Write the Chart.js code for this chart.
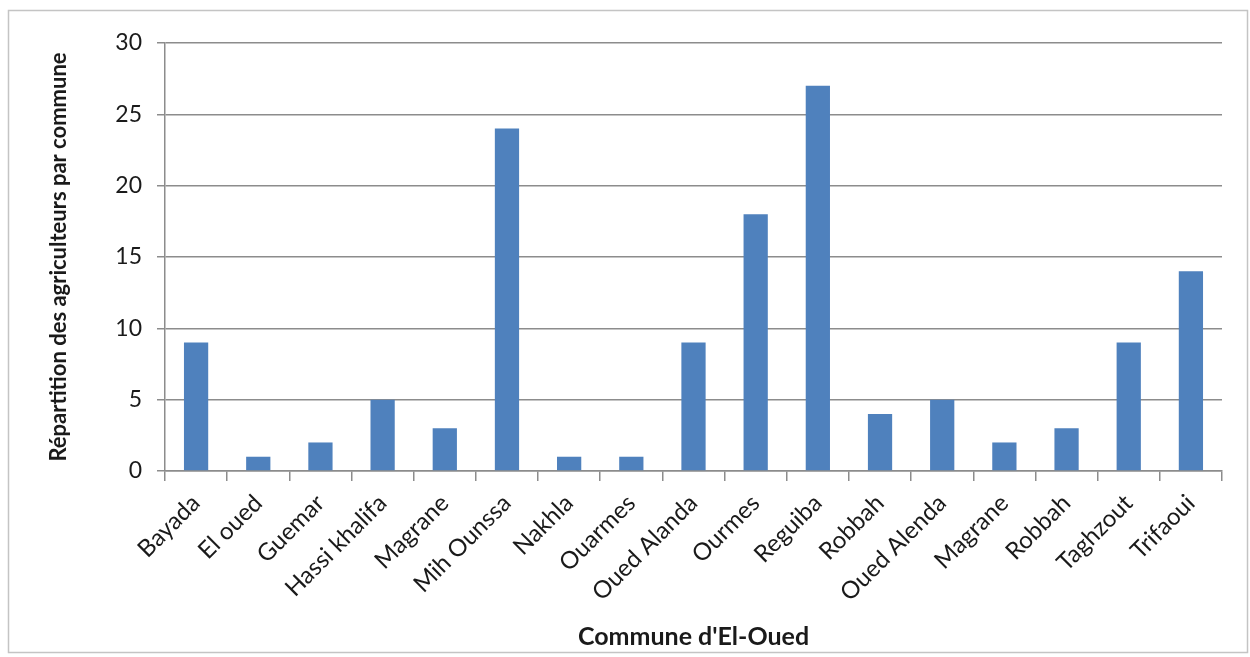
<!DOCTYPE html>
<html>
<head>
<meta charset="utf-8">
<script src="https://cdn.jsdelivr.net/npm/chart.js@4.4.1/dist/chart.umd.min.js"></script>
<style>
  html, body { margin: 0; padding: 0; background: #ffffff; }
  #wrap { position: relative; width: 1250px; height: 657px; }
</style>
</head>
<body>
<div id="wrap"><canvas id="chart" width="1250" height="657"></canvas></div>
<script>
// Nombre d'agriculteurs enquêtés par commune
const communes = [
  'Bayada', 'El oued', 'Guemar', 'Hassi khalifa', 'Magrane', 'Mih Ounssa',
  'Nakhla', 'Ouarmes', 'Oued Alanda', 'Ourmes', 'Reguiba', 'Robbah',
  'Oued Alenda', 'Magrane', 'Robbah', 'Taghzout', 'Trifaoui'
];
const agriculteurs = [9, 1, 2, 5, 3, 24, 1, 1, 9, 18, 27, 4, 5, 2, 3, 9, 14];
const yMin = 0;
const yMax = 30;
const yStep = 5;

const axisGrey = '#8c8c8c';
const textColor = '#1a1a1a';
const fontFamily = 'Lato, "Open Sans", sans-serif';

// Cadre gris autour de la zone du graphique
const frame = {
  id: 'frame',
  beforeDraw(chart) {
    const ctx = chart.ctx;
    ctx.save();
    ctx.fillStyle = '#ffffff';
    ctx.fillRect(0, 0, chart.width, chart.height);
    ctx.strokeStyle = '#c4c4c4';
    ctx.lineWidth = 1.5;
    ctx.strokeRect(8.5, 10.5, 1239, 642);
    ctx.restore();
  }
};

new Chart(document.getElementById('chart'), {
  type: 'bar',
  data: {
    labels: communes,
    datasets: [{
      label: 'Agriculteurs',
      data: agriculteurs,
      backgroundColor: '#4f81bd',
      borderWidth: 0,
      categoryPercentage: 1.0,
      barPercentage: 0.39
    }]
  },
  options: {
    responsive: false,
    animation: false,
    devicePixelRatio: 1,
    layout: { padding: { top: 43, right: 28, left: 0, bottom: 0 } },
    plugins: {
      legend: { display: false },
      tooltip: { enabled: false }
    },
    scales: {
      x: {
        afterFit(scale) { scale.height = 186; },
        grid: {
          offset: true,
          drawOnChartArea: false,
          drawTicks: true,
          tickLength: 10,
          color: axisGrey,
          lineWidth: 1.5
        },
        border: { display: true, color: axisGrey, width: 1.5 },
        ticks: {
          autoSkip: false,
          minRotation: 45,
          maxRotation: 45,
          padding: 8,
          color: textColor,
          font: { family: fontFamily, size: 24 }
        },
        title: {
          display: true,
          text: "Commune d'El-Oued",
          color: textColor,
          font: { family: fontFamily, size: 25, weight: 'bold' },
          padding: { top: 0, bottom: 5 }
        }
      },
      y: {
        min: yMin,
        max: yMax,
        afterFit(scale) { scale.width = 165; },
        grid: {
          color: axisGrey,
          lineWidth: 1.5,
          drawTicks: true,
          tickLength: 8
        },
        border: { display: true, color: axisGrey, width: 1.5 },
        ticks: {
          stepSize: yStep,
          padding: 15,
          color: textColor,
          font: { family: fontFamily, size: 23 }
        },
        title: {
          display: true,
          text: 'Répartition des agriculteurs par commune',
          color: textColor,
          font: { family: fontFamily, size: 22, weight: 'bold' },
          padding: { top: 46, bottom: 0 }
        }
      }
    }
  },
  plugins: [frame]
});
</script>
</body>
</html>
